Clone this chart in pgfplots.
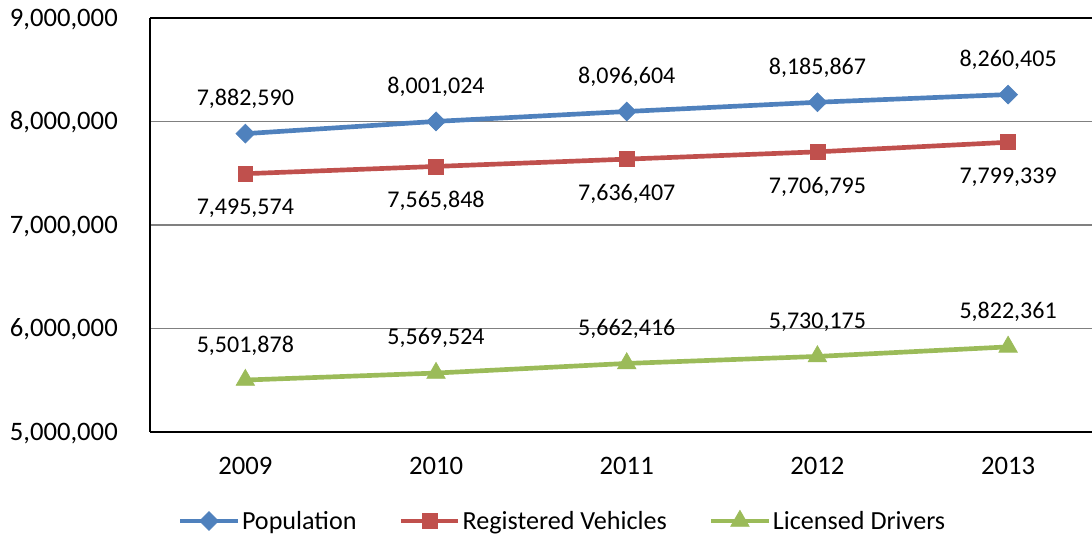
\documentclass[border=0pt]{standalone}
\usepackage{pgfplots}
\pgfplotsset{compat=1.18}
\usepackage{fontspec}
\setmainfont{Carlito}
\definecolor{cblue}{HTML}{4F81BD}
\definecolor{cred}{HTML}{C0504D}
\definecolor{cgreen}{HTML}{9BBB59}
\pgfplotstableread{
x y label
0 7882590 7,882,590
1 8001024 8,001,024
2 8096604 8,096,604
3 8185867 8,185,867
4 8260405 8,260,405
}\population
\pgfplotstableread{
x y label
0 7495574 7,495,574
1 7565848 7,565,848
2 7636407 7,636,407
3 7706795 7,706,795
4 7799339 7,799,339
}\vehicles
\pgfplotstableread{
x y label
0 5501878 5,501,878
1 5569524 5,569,524
2 5662416 5,662,416
3 5730175 5,730,175
4 5822361 5,822,361
}\drivers
\begin{document}
\begin{tikzpicture}
\useasboundingbox (0,0) rectangle (819pt,403.5pt);
\begin{axis}[
 at={(112.5pt,79.5pt)}, anchor=south west,
 scale only axis, width=706.5pt, height=310.5pt,
 xmin=-0.5, xmax=4.44, ymin=5000000, ymax=9000000,
 axis x line*=bottom, axis y line*=left,
 axis line style={black, line width=1pt},
 ytick={5000000,6000000,7000000,8000000},
 extra y ticks={9000000},
 extra y tick style={grid style={black, line width=1pt}},
 ymajorgrids, grid style={black!50, line width=1pt},
 major tick length=0pt,
 xtick={0,...,4}, xticklabels={2009,2010,2011,2012,2013},
 scaled y ticks=false,
 /pgf/number format/fixed,
 /pgf/number format/1000 sep={,},
 /pgf/number format/assume math mode=true,
 yticklabel style={anchor=base east, inner sep=0pt, xshift=-24pt, yshift=-6.3pt, font=\fontsize{20}{24}\selectfont},
 xticklabel style={anchor=base, inner sep=0pt, yshift=-32pt, font=\fontsize{20}{24}\selectfont},
 legend columns=3,
 legend style={draw=none, at={(0.438,-0.215)}, anchor=center, font=\fontsize{19.6}{22}\selectfont,
   nodes={inner xsep=1.5pt},
   /tikz/every even column/.append style={column sep=30pt}},
 legend image code/.code={\draw[mark repeat=2,mark phase=2] plot coordinates {(0pt,0pt)(21.5pt,0pt)(43pt,0pt)};},
 nodes near coords, point meta=explicit symbolic,
]
\addplot[cblue, line width=3.5pt, mark=square*, mark size=5pt, mark options={rotate=45, line width=0.5pt},
  every node near coord/.append style={anchor=center, yshift=26pt, text=black, font=\fontsize{18}{20}\selectfont}]
  table[x=x, y=y, meta=label] {\population};
\addlegendentry{Population}
\addplot[cred, line width=3.5pt, mark=square*, mark size=5.6pt, mark options={line width=0.5pt},
  every node near coord/.append style={anchor=center, yshift=-26pt, text=black, font=\fontsize{18}{20}\selectfont}]
  table[x=x, y=y, meta=label] {\vehicles};
\addlegendentry{Registered Vehicles}
\addplot[cgreen, line width=3.5pt, mark=triangle*, mark size=8pt, mark options={line width=0.5pt},
  every node near coord/.append style={anchor=center, yshift=26pt, text=black, font=\fontsize{18}{20}\selectfont}]
  table[x=x, y=y, meta=label] {\drivers};
\addlegendentry{Licensed Drivers}
\end{axis}
\end{tikzpicture}
\end{document}
